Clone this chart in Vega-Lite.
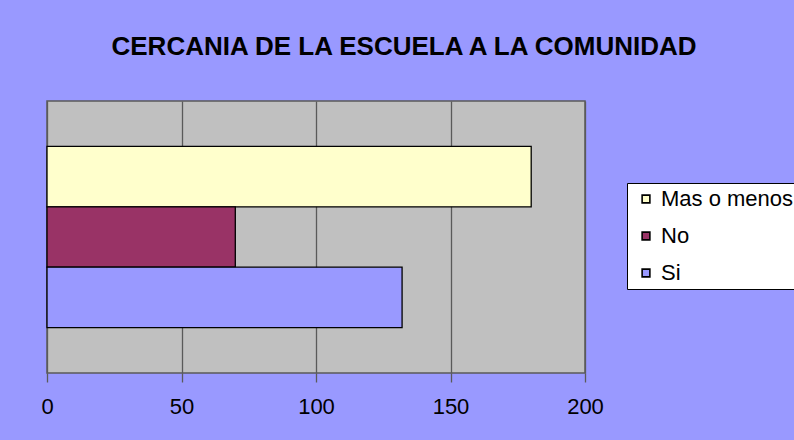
{
  "$schema": "https://vega.github.io/schema/vega-lite/v6.json",
  "autosize": {"type": "none"},
  "width": 538,
  "height": 272,
  "padding": {"left": 47, "top": 101, "right": 209, "bottom": 67},
  "background": "#9999FF",
  "title": {
    "text": "CERCANIA DE LA ESCUELA A LA COMUNIDAD",
    "font": "Liberation Sans",
    "fontSize": 26,
    "fontWeight": "bold",
    "color": "black",
    "anchor": "middle",
    "dx": 88,
    "offset": 41
  },
  "data": {
    "values": [
      {"respuesta": "Mas o menos", "valor": 180},
      {"respuesta": "No", "valor": 70},
      {"respuesta": "Si", "valor": 132}
    ]
  },
  "mark": {"type": "bar", "stroke": "black", "strokeWidth": 1.3},
  "encoding": {
    "y": {
      "field": "respuesta",
      "type": "nominal",
      "sort": ["Mas o menos", "No", "Si"],
      "scale": {"paddingInner": 0, "paddingOuter": 0.75},
      "axis": null
    },
    "x": {
      "field": "valor",
      "type": "quantitative",
      "scale": {"domain": [0, 200], "nice": false},
      "axis": {
        "values": [0, 50, 100, 150, 200],
        "title": null,
        "grid": true,
        "gridColor": "#5a5a5a",
        "gridWidth": 1.3,
        "domain": false,
        "tickColor": "#5a5a5a",
        "tickSize": 9,
        "tickWidth": 1.3,
        "labelFont": "Liberation Sans",
        "labelFontSize": 22,
        "labelColor": "black",
        "labelPadding": 14,
        "labelFlush": false
      }
    },
    "color": {
      "field": "respuesta",
      "type": "nominal",
      "sort": ["Mas o menos", "No", "Si"],
      "scale": {
        "domain": ["Mas o menos", "No", "Si"],
        "range": ["#FFFFCC", "#993366", "#9999FF"]
      },
      "legend": {
        "title": null,
        "orient": "none",
        "legendX": 580,
        "legendY": 82,
        "fillColor": "white",
        "strokeColor": "black",
        "padding": 5,
        "symbolType": "square",
        "symbolSize": 60,
        "symbolOffset": 3,
        "symbolStrokeColor": "black",
        "symbolStrokeWidth": 1.6,
        "symbolOpacity": 1,
        "labelFont": "Liberation Sans",
        "labelFontSize": 22,
        "labelColor": "black",
        "labelLimit": 300,
        "rowPadding": 15,
        "labelOffset": 4
      }
    }
  },
  "config": {
    "view": {"fill": "#C0C0C0", "stroke": "#5a5a5a", "strokeWidth": 1.5}
  }
}
